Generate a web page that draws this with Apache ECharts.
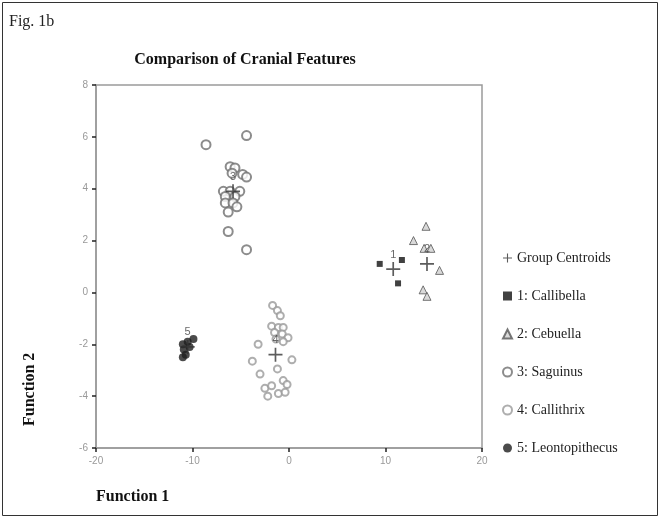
<!DOCTYPE html>
<html><head><meta charset="utf-8">
<script src="https://cdn.jsdelivr.net/npm/echarts@6/dist/echarts.min.js"></script>
<style>html,body{margin:0;padding:0;background:#fff}#c{width:661px;height:520px}</style>
</head><body><div id="c"></div>
<script>
const xTicks = [-20, -10, 0, 10, 20];
const yTicks = [-6, -4, -2, 0, 2, 4, 6, 8];
const groupNames = ['Group Centroids', '1: Callibella', '2: Cebuella', '3: Saguinus', '4: Callithrix', '5: Leontopithecus'];
const centroidLabels = ['1', '2', '3', '4', '5'];
const centroids = [[10.8, 0.9], [14.3, 1.1], [-5.8, 3.9], [-1.4, -2.4], [-10.5, -2.1]];
const callibella = [[9.4, 1.1], [11.7, 1.25], [11.3, 0.35]];
const cebuella = [[14.2, 2.55], [12.9, 2.0], [14.0, 1.7], [14.7, 1.7], [15.6, 0.85], [13.9, 0.1], [14.3, -0.15]];
const saguinus = [[-8.6, 5.7], [-4.4, 6.05], [-6.1, 4.85], [-5.6, 4.8], [-5.9, 4.6], [-4.8, 4.55], [-4.4, 4.45],
  [-6.8, 3.9], [-6.1, 3.9], [-5.1, 3.9], [-6.6, 3.7], [-5.6, 3.7], [-6.6, 3.45], [-5.8, 3.45], [-5.4, 3.3],
  [-6.3, 3.1], [-6.3, 2.35], [-4.4, 1.65]];
const callithrix = [[-1.7, -0.5], [-1.2, -0.7], [-0.9, -0.9], [-1.8, -1.3], [-1.1, -1.35], [-0.6, -1.35],
  [-1.5, -1.55], [-0.7, -1.6], [-1.35, -1.8], [-0.1, -1.75], [-0.6, -1.9], [-3.2, -2.0], [-3.8, -2.65],
  [0.3, -2.6], [-1.2, -2.95], [-3.0, -3.15], [-0.6, -3.4], [-2.5, -3.7], [-1.8, -3.6], [-2.2, -4.0],
  [-1.1, -3.9], [-0.2, -3.55], [-0.4, -3.85]];
const leontopithecus = [[-9.9, -1.8], [-10.5, -1.9], [-11.0, -2.0], [-10.3, -2.1], [-10.9, -2.2], [-10.7, -2.4], [-11.0, -2.5]];

const crossPath = 'path://M0,4.4H10V5.6H0Z M4.4,0H5.6V10H4.4Z';
const serif = '"Liberation Serif", "DejaVu Serif", serif';
const sans = '"Liberation Sans", Arial, sans-serif';

const chart = echarts.init(document.getElementById('c'), null, {renderer: 'canvas'});
chart.setOption({
  animation: false,
  backgroundColor: '#fff',
  grid: {left: 96, right: 179, top: 85, bottom: 72, show: true, borderColor: '#9a9a9a', borderWidth: 1.5},
  xAxis: {
    type: 'value', min: xTicks[0], max: xTicks[xTicks.length - 1], interval: 10,
    axisLine: {show: true, onZero: false, lineStyle: {color: '#9a9a9a', width: 1.5}},
    axisTick: {show: true, length: 4, lineStyle: {color: '#222', width: 1.5}},
    axisLabel: {color: '#999', fontSize: 10, fontFamily: sans, margin: 8},
    splitLine: {show: false}
  },
  yAxis: {
    type: 'value', min: yTicks[0], max: yTicks[yTicks.length - 1], interval: 2,
    axisLine: {show: true, onZero: false, lineStyle: {color: '#9a9a9a', width: 1.5}},
    axisTick: {show: true, length: 4, lineStyle: {color: '#222', width: 1.5}},
    axisLabel: {color: '#999', fontSize: 10, fontFamily: sans, margin: 8},
    splitLine: {show: false}
  },
  legend: {
    orient: 'vertical', left: 497, top: 246, itemGap: 24, itemWidth: 9, itemHeight: 9,
    textStyle: {fontFamily: serif, fontSize: 14, color: '#222'},
    data: [
      {name: groupNames[0], icon: crossPath},
      {name: groupNames[1], icon: 'rect'},
      {name: groupNames[2], icon: 'triangle'},
      {name: groupNames[3], icon: 'emptyCircle'},
      {name: groupNames[4], icon: 'emptyCircle'},
      {name: groupNames[5], icon: 'circle'}
    ]
  },
  graphic: [
    {type: 'rect', shape: {x: 2.5, y: 2.5, width: 655, height: 513}, style: {fill: 'none', stroke: '#333', lineWidth: 1}},
    {type: 'text', x: 9, y: 14, style: {text: 'Fig. 1b', font: '16px ' + serif, fill: '#222'}},
    {type: 'text', x: 245, y: 52, style: {text: 'Comparison of Cranial Features', font: 'bold 16px ' + serif, fill: '#111', textAlign: 'center'}},
    {type: 'text', x: 96, y: 489, style: {text: 'Function 1', font: 'bold 16px ' + serif, fill: '#111'}},
    {type: 'text', x: 30, y: 426, rotation: Math.PI / 2, style: {text: 'Function 2', font: 'bold 16px ' + serif, fill: '#111', textVerticalAlign: 'middle'}}
  ],
  series: [
    {name: groupNames[1], type: 'scatter', data: callibella, symbol: 'rect', symbolSize: 6,
      itemStyle: {color: '#111'}},
    {name: groupNames[2], type: 'scatter', data: cebuella, symbol: 'triangle', symbolSize: 8,
      itemStyle: {color: '#cfcfcf', borderColor: '#555', borderWidth: 1}},
    {name: groupNames[3], type: 'scatter', data: saguinus, symbol: 'emptyCircle', symbolSize: 9,
      itemStyle: {color: '#6f6f6f', borderWidth: 1.3}},
    {name: groupNames[4], type: 'scatter', data: callithrix, symbol: 'emptyCircle', symbolSize: 7,
      itemStyle: {color: '#9a9a9a', borderWidth: 1.4}},
    {name: groupNames[5], type: 'scatter', data: leontopithecus, symbol: 'circle', symbolSize: 8,
      itemStyle: {color: '#1e1e1e'}},
    {name: groupNames[0], type: 'scatter', data: centroids, symbol: crossPath, symbolSize: 14, z: 5,
      itemStyle: {color: '#333'},
      label: {show: true, position: 'top', distance: 2, fontSize: 11, fontFamily: sans, color: '#444',
        formatter: p => centroidLabels[p.dataIndex]}}
  ]
});
</script></body></html>
